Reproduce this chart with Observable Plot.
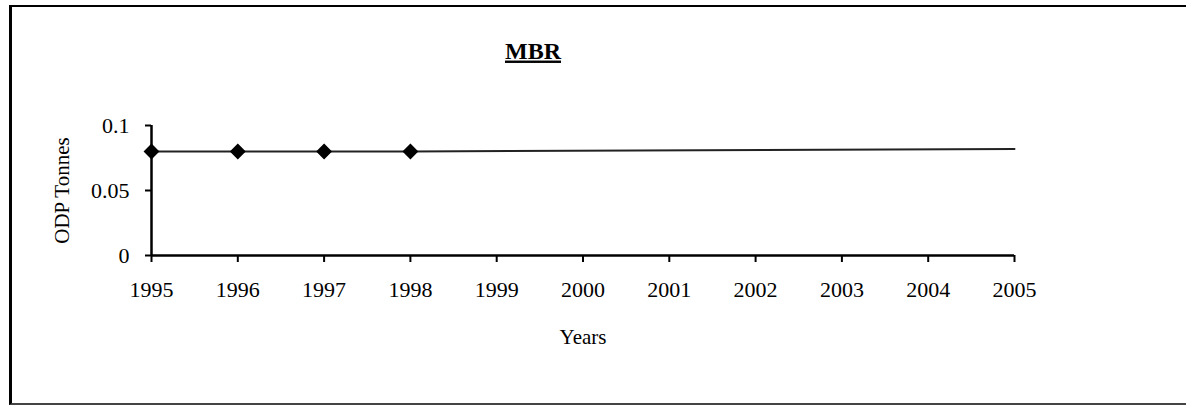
<!DOCTYPE html>
<html>
<head>
<meta charset="utf-8">
<script src="https://cdn.jsdelivr.net/npm/d3@7"></script>
<script src="https://cdn.jsdelivr.net/npm/@observablehq/plot@0.6"></script>
<style>
  html, body { margin: 0; padding: 0; background: #fff; }
  #wrap { position: relative; width: 1186px; height: 405px; overflow: hidden; }
  #wrap svg { position: absolute; left: 0; top: 0; }
  #frame { position: absolute; left: 9px; top: 5px; width: 1200px; height: 396px;
           border-top: 2.5px solid #000; border-left: 3px solid #000; border-bottom: 2px solid #444; }
</style>
</head>
<body>
<div id="wrap"><div id="frame"></div></div>
<script>
const chartTitle = "MBR";
const xLabel = "Years";
const yLabel = "ODP Tonnes";
const years = [1995, 1996, 1997, 1998, 1999, 2000, 2001, 2002, 2003, 2004, 2005];
const yTicks = [0, 0.05, 0.1];
const actualYears = [1995, 1996, 1997, 1998];
const actualValues = [0.08, 0.08, 0.08, 0.08];
const trendYears = [1998, 2005];
const trendValues = [0.08, 0.082];

const actual = actualYears.map((y, i) => ({year: y, value: actualValues[i]}));
const trend = trendYears.map((y, i) => ({year: y, value: trendValues[i]}));

const serif = "'Liberation Serif', 'Times New Roman', serif";

const chart = Plot.plot({
  width: 1186,
  height: 405,
  marginLeft: 151,
  marginRight: 172,
  marginTop: 125,
  marginBottom: 150,
  style: {fontFamily: serif, fontSize: "22px", color: "#000", background: "transparent"},
  x: {domain: [1995, 2005]},
  y: {domain: [0, 0.1]},
  marks: [
    Plot.axisX({ticks: years, tickFormat: d => String(d), tickSize: 7, tickPadding: 19,
      fontSize: 22, strokeWidth: 2, label: xLabel, labelAnchor: "center", labelArrow: "none", labelOffset: 88}),
    Plot.axisY({ticks: yTicks, tickFormat: d => String(d), tickSize: 6, tickPadding: 16,
      fontSize: 22, strokeWidth: 2, label: yLabel, labelAnchor: "center", labelArrow: "none", labelOffset: 97}),
    Plot.ruleY([0], {stroke: "#000", strokeWidth: 2.5}),
    Plot.ruleX([1995], {stroke: "#000", strokeWidth: 2.5}),
    Plot.line(actual, {x: "year", y: "value", stroke: "#222", strokeWidth: 2}),
    Plot.line(trend, {x: "year", y: "value", stroke: "#222", strokeWidth: 2}),
    Plot.dot(actual, {x: "year", y: "value", symbol: "diamond2", r: 6.2, fill: "#000", stroke: "#000"}),
    Plot.text([chartTitle], {frameAnchor: "top", dx: -50, dy: -84, text: d => d, fontSize: 24, fontWeight: "bold",
      fontFamily: serif, className: "chart-title"})
  ]
});
document.getElementById("wrap").appendChild(chart);
d3.select(chart).selectAll(".chart-title text").attr("text-decoration", "underline");
d3.select(chart).selectAll("[aria-label='x-axis label'] text, [aria-label='y-axis label'] text").attr("font-size", 21);
</script>
</body>
</html>
